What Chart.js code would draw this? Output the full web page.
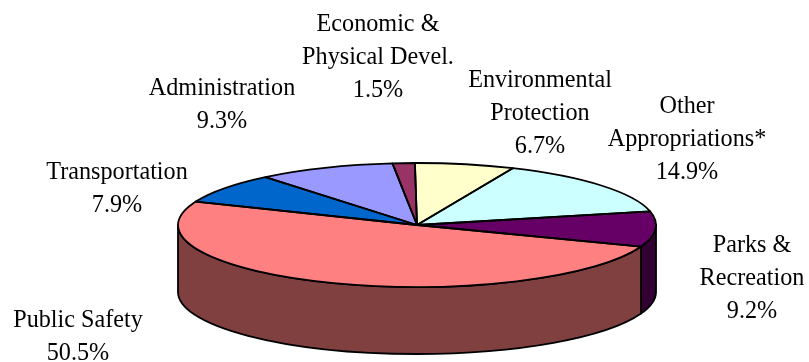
<!DOCTYPE html>
<html>
<head>
<meta charset="utf-8">
<title>Budget by function</title>
<style>
  html, body { margin: 0; padding: 0; background: #fff; }
  #budgetPie { display: block; }
</style>
<script src="https://cdn.jsdelivr.net/npm/chart.js@4/dist/chart.umd.min.js"></script>
</head>
<body>
<canvas id="budgetPie" width="809" height="362"></canvas>
<script>
(function () {
    "use strict";

    const categories = [
        ['Environmental', 'Protection'],
        ['Other', 'Appropriations*'],
        ['Parks &', 'Recreation'],
        ['Public Safety'],
        ['Transportation'],
        ['Administration'],
        ['Economic &', 'Physical Devel.']
    ];
    const shares = [6.7, 14.9, 9.2, 50.5, 7.9, 9.3, 1.5];
    const topColors = ['#FFFFCC', '#CCFFFF', '#660066', '#FF8080', '#0066CC', '#9999FF', '#993366'];
    const sideColors = ['#808066', '#668080', '#330033', '#804040', '#003366', '#4D4D80', '#4D1A33'];

    // centre x and first baseline of each label block
    const labelAnchors = [[540, 87], [687, 113], [752, 252], [78, 327], [117, 179], [222, 95], [378, 31]];
    const lineGap = 33;
    const squash = 62 / 239;
    const depth = 67;
    const outline = 1.8;

    function arcsOf(chart) {
        return chart.getDatasetMeta(0).data.map(a =>
            a.getProps(['x', 'y', 'startAngle', 'endAngle', 'outerRadius'], true));
    }

    const pie3d = {
        id: 'pie3d',
        beforeDatasetsDraw(chart) {
            const ctx = chart.ctx;
            ctx.lineWidth = outline;
            ctx.strokeStyle = '#000';
            ctx.lineJoin = 'round';

            // side wall, only the front half of the rim shows
            arcsOf(chart).forEach((a, i) => {
                const from = Math.max(a.startAngle, 0);
                const to = Math.min(a.endAngle, Math.PI);
                if (to <= from) return;
                const ry = a.outerRadius * squash;
                ctx.beginPath();
                ctx.ellipse(a.x, a.y, a.outerRadius, ry, 0, from, to);
                ctx.ellipse(a.x, a.y + depth, a.outerRadius, ry, 0, to, from, true);
                ctx.closePath();
                ctx.fillStyle = sideColors[i];
                ctx.fill();
                ctx.stroke();
            });

            // flatten the pie the library is about to draw
            const first = arcsOf(chart)[0];
            ctx.save();
            ctx.translate(first.x, first.y);
            ctx.scale(1, squash);
            ctx.translate(-first.x, -first.y);
        },
        afterDatasetsDraw(chart) {
            const ctx = chart.ctx;
            ctx.restore();

            // outlines go here so the line width is not squashed too
            ctx.lineWidth = outline;
            ctx.strokeStyle = '#000';
            ctx.lineJoin = 'round';
            arcsOf(chart).forEach(a => {
                const ry = a.outerRadius * squash;
                ctx.beginPath();
                ctx.moveTo(a.x, a.y);
                ctx.ellipse(a.x, a.y, a.outerRadius, ry, 0, a.startAngle, a.endAngle);
                ctx.closePath();
                ctx.stroke();
            });

            ctx.fillStyle = '#000';
            ctx.font = '24.2px "Liberation Serif", serif';
            ctx.textAlign = 'center';
            ctx.textBaseline = 'alphabetic';
            categories.forEach((lines, i) => {
                const [x, y] = labelAnchors[i];
                lines.concat(shares[i].toFixed(1) + '%').forEach((line, n) => {
                    ctx.fillText(line, x, y + n * lineGap);
                });
            });
        }
    };

    new Chart(document.getElementById('budgetPie').getContext('2d'), {
        type: 'pie',
        data: {
            labels: categories.map(c => c.join(' ')),
            datasets: [{
                data: shares,
                backgroundColor: topColors,
                borderWidth: 0,
                radius: 239,
                rotation: -0.5
            }]
        },
        options: {
            responsive: false,
            animation: false,
            layout: { padding: { left: 25, top: 88 } },
            plugins: {
                legend: { display: false },
                tooltip: { enabled: false }
            }
        },
        plugins: [pie3d]
    });
})();
</script>
</body>
</html>
